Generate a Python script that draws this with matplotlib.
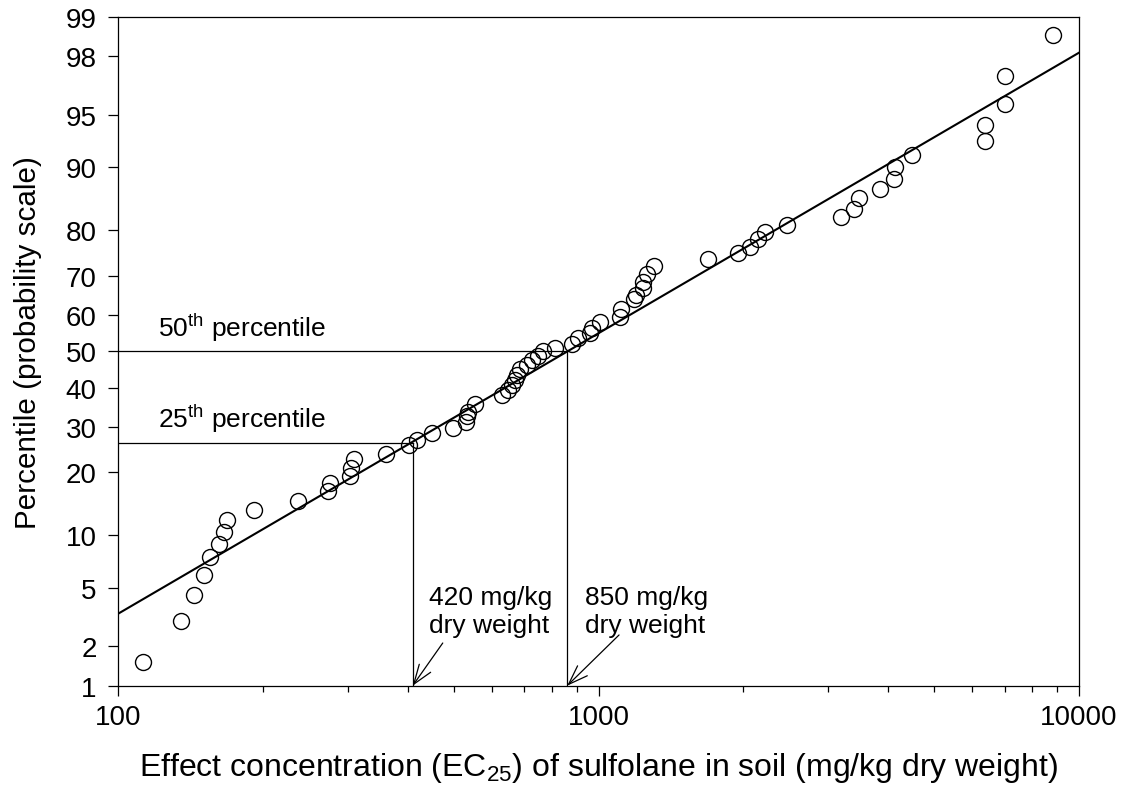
import numpy as np
import matplotlib
matplotlib.use("Agg")
import matplotlib.pyplot as plt
from matplotlib.ticker import FixedLocator, FixedFormatter, NullFormatter
from statistics import NormalDist

plt.rcParams['font.family'] = ['Liberation Sans', 'DejaVu Sans']
plt.rcParams['mathtext.fontset'] = 'custom'
plt.rcParams['mathtext.rm'] = 'Liberation Sans'
plt.rcParams['mathtext.it'] = 'Liberation Sans:italic'
plt.rcParams['mathtext.bf'] = 'Liberation Sans:bold'

# ---- data ----
ec25 = [112.7, 135.3, 143.8, 150.6, 155.2, 162.3, 165.8, 168.6, 191.3, 236.6,
        273.3, 275.9, 303.6, 304.6, 309.5, 360.4, 403.5, 417.9, 449.1, 496.7,
        529.5, 533.0, 535.5, 552.7, 628.2, 648.4, 659.1, 669.6, 675.1, 686.0,
        708.3, 725.5, 746.6, 766.9, 811.0, 878.6, 907.0, 959.2, 967.0, 1006,
        1107, 1111, 1184, 1196, 1235, 1235, 1259, 1304, 1691, 1953,
        2065, 2149, 2223, 2470, 3194, 3400, 3477, 3857, 4128, 4144,
        4489, 6370, 6370, 7012, 7012, 8814]
percentile = [1.53, 3.02, 4.49, 5.96, 7.59, 9.03, 10.42, 12.06, 13.5, 14.9,
              16.5, 17.9, 19.3, 20.9, 22.6, 23.8, 25.7, 26.9, 28.4, 29.6,
              31.2, 32.5, 33.7, 35.6, 38.0, 39.4, 40.7, 42.0, 43.4, 45.0,
              46.1, 47.4, 48.6, 50.1, 50.8, 52.0, 53.5, 54.9, 56.3, 57.9,
              59.5, 61.6, 64.1, 65.3, 67.0, 68.5, 70.5, 72.3, 74.0, 75.3,
              76.6, 78.2, 79.7, 81.0, 82.5, 83.9, 85.6, 87.0, 88.4, 90.0,
              91.4, 92.8, 94.2, 95.7, 97.2, 98.6]

fit_x = [100, 10000]
fit_p = [3.4, 98.1]

hc_x = [410, 860]          # drawn positions of the hazard concentrations
hc_p = [26.1, 50.0]        # percentile levels
hc_labels = ["420 mg/kg", "850 mg/kg"]
pct_labels = [r"25$^{\rm th}$ percentile", r"50$^{\rm th}$ percentile"]

y_ticks = [1, 2, 5, 10, 20, 30, 40, 50, 60, 70, 80, 90, 95, 98, 99]
x_ticks = [100, 1000, 10000]
x_ticklabels = ["100", "1000", "10000"]

# ---- probability scale ----
_nd = NormalDist()
_ppf = np.vectorize(lambda v: _nd.inv_cdf(v), otypes=[float])
_cdf = np.vectorize(lambda z: _nd.cdf(z), otypes=[float])

def fwd(p):
    p = np.clip(np.asarray(p, dtype=float), 1e-7, 100 - 1e-7)
    return _ppf(p / 100.0)

def inv(z):
    return 100.0 * _cdf(np.asarray(z, dtype=float))

fig = plt.figure(figsize=(11.25, 8.04), dpi=100)
ax = fig.add_axes([0.1052, 0.1459, 0.8539, 0.8323])

ax.set_xscale('log')
ax.set_yscale('function', functions=(fwd, inv))
ax.set_xlim(100, 10000)
ax.set_ylim(1, 99)

# fitted line
ax.plot(fit_x, fit_p, color='black', lw=1.5, zorder=3)
# data points
ax.plot(ec25, percentile, linestyle='none', marker='o', markersize=11.5,
        markerfacecolor='none', markeredgecolor='black', markeredgewidth=1.0, zorder=4)

# percentile guide lines
for xv, pv in zip(hc_x, hc_p):
    ax.plot([100, xv], [pv, pv], color='black', lw=0.9, zorder=2)
    ax.plot([xv, xv], [1, pv], color='black', lw=0.9, zorder=2)

# text labels
ax.text(0.0413, 0.386, pct_labels[0], transform=ax.transAxes, fontsize=19, va='baseline', ha='left')
ax.text(0.0413, 0.523, pct_labels[1], transform=ax.transAxes, fontsize=19, va='baseline', ha='left')

lab_x = [0.3237, 0.4858]
arrow_from = [(0.3377, 0.0638), (0.5212, 0.0758)]
for lx, lab, xv, af in zip(lab_x, hc_labels, hc_x, arrow_from):
    ax.text(lx, 0.122, lab, transform=ax.transAxes, fontsize=19, va='baseline', ha='left')
    ax.text(lx, 0.0809, "dry weight", transform=ax.transAxes, fontsize=19, va='baseline', ha='left')
    ax.annotate("", xy=(xv, 1), xycoords='data', xytext=af, textcoords='axes fraction',
                arrowprops=dict(arrowstyle='->,head_length=0.7,head_width=0.25',
                                color='black', lw=0.9, shrinkA=0, shrinkB=0,
                                mutation_scale=20),
                annotation_clip=False)

# axes ticks
ax.yaxis.set_major_locator(FixedLocator(y_ticks))
ax.yaxis.set_major_formatter(FixedFormatter([str(t) for t in y_ticks]))
ax.yaxis.set_minor_locator(FixedLocator([]))
ax.xaxis.set_major_locator(FixedLocator(x_ticks))
ax.xaxis.set_major_formatter(FixedFormatter(x_ticklabels))
ax.xaxis.set_minor_formatter(NullFormatter())

ax.tick_params(axis='both', which='major', direction='out', length=7.5, width=0.9,
               labelsize=20, top=False, right=False)
ax.tick_params(axis='x', which='major', pad=6)
ax.tick_params(axis='y', which='major', pad=8)
ax.tick_params(axis='x', which='minor', direction='out', length=4.5, width=0.9, top=False)

for s in ax.spines.values():
    s.set_linewidth(0.9)

ax.set_xlabel(r"Effect concentration (EC$_{25}$) of sulfolane in soil (mg/kg dry weight)",
              fontsize=23, labelpad=14)
ax.set_ylabel("Percentile (probability scale)", fontsize=21.3)
ax.yaxis.set_label_coords(-0.079, 0.515)

fig.savefig("out.png", dpi=100)
